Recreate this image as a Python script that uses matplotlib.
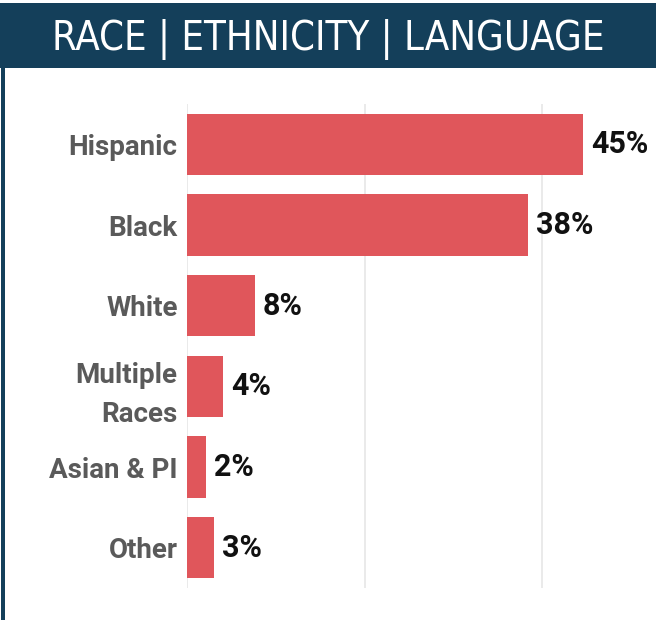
import matplotlib
matplotlib.use("Agg")
import matplotlib.pyplot as plt
from matplotlib.patches import Rectangle

categories = ["Hispanic", "Black", "White", "Multiple\nRaces", "Asian & PI", "Other"]
shares = [44.7, 38.4, 7.6, 4.0, 2.1, 3.0]
share_labels = ["45%", "38%", "8%", "4%", "2%", "3%"]
title = "RACE | ETHNICITY | LANGUAGE"

navy = "#143f5a"
bar_color = "#e0565b"

fig = plt.figure(figsize=(6.56, 6.2), dpi=100)

# header band + left border
fig.patches.append(Rectangle((0, 1 - 68 / 620), 1, 65 / 620, transform=fig.transFigure,
                             facecolor=navy, edgecolor="none"))
fig.patches.append(Rectangle((1 / 656, 0), 4 / 656, 1 - 68 / 620, transform=fig.transFigure,
                             facecolor=navy, edgecolor="none"))
t = fig.text(0.5, 1 - 39 / 620, title, color="white", ha="center", va="center",
             fontsize=34, family="DejaVu Sans", fontstretch="condensed")
# shrink the title until it spans about the same width as the reference
r = fig.canvas.get_renderer()
w = t.get_window_extent(r).width
if w > 553:
    t.set_fontsize(34 * 553 / w)

ax = fig.add_axes([187.3 / 656, 1 - 588 / 620, 52 * 8.86 / 656, 484 / 620])
y = list(range(len(categories)))
ax.barh(y, shares, height=0.76, color=bar_color, zorder=2)
ax.set_xlim(0, 52)
ax.set_ylim(len(categories) - 0.5, -0.5)

ax.set_xticks([0, 20, 40])
ax.xaxis.grid(True, color="#e8e8e8", linewidth=1.3, zorder=0)
ax.tick_params(axis="x", length=0, labelbottom=False)
ax.set_yticks(y)
ax.set_yticklabels(categories, fontsize=20, fontweight="bold", color="#5a5a5a",
                   family="Roboto", linespacing=1.55)
ax.tick_params(axis="y", length=0, pad=7)
for s in ax.spines.values():
    s.set_visible(False)

for yi, v, lab in zip(y, shares, share_labels):
    ax.annotate(lab, (v, yi), xytext=(6, 0), textcoords="offset points",
                ha="left", va="center", fontsize=22, fontweight="bold",
                color="#111111", family="Roboto")

fig.savefig("out.png", dpi=100)
